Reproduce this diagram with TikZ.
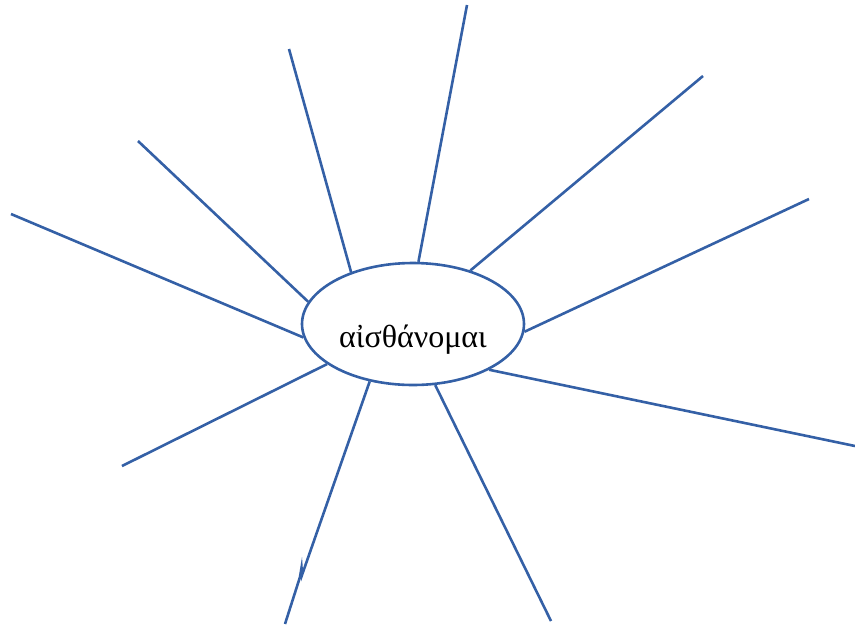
\documentclass[tikz,border=0pt]{standalone}
\usepackage{fontspec}
\setmainfont{Liberation Serif}
\usetikzlibrary{shapes.geometric}
\definecolor{ray}{RGB}{52,96,166}
\begin{document}
\begin{tikzpicture}[x=1pt,y=-1pt,
  raystyle/.style={draw=ray,line width=2.6pt},
  hub/.style={ellipse,draw=ray,line width=2.6pt,minimum width=222pt,minimum height=122pt,inner sep=0pt}]
\useasboundingbox (0,0) rectangle (855,625);
\node[hub] (e) at (413,324) {};
\node[inner sep=0pt,font=\fontsize{32}{36}\selectfont] (t) at (413,340) {αἰσθάνομαι};
\coordinate (o1) at (467,5);
\coordinate (o2) at (289,49);
\coordinate (o3) at (138,141);
\coordinate (o4) at (11,214);
\coordinate (o5) at (122,466);
\coordinate (o6) at (285,624);
\coordinate (o7) at (551,621);
\coordinate (o8) at (855,446);
\coordinate (o9) at (809,199);
\coordinate (o10) at (703,76);
\draw[raystyle] (o1) -- (e.85.3);
\draw[raystyle] (o2) -- (e.140.3);
\draw[raystyle] (o3) -- (e.168.1);
\draw[raystyle] (o4) -- (e.187.9);
\draw[raystyle] (o5) -- (e.205.7);
\draw[raystyle] (o6) -- (300,577) -- (301.5,568) -- (302,575) -- (e.233);
\draw[raystyle] (o7) -- (e.290.7);
\draw[raystyle] (o8) -- (e.329.7);
\draw[raystyle] (o9) -- (e.356.4);
\draw[raystyle] (o10) -- (e.43.5);
\end{tikzpicture}
\end{document}
